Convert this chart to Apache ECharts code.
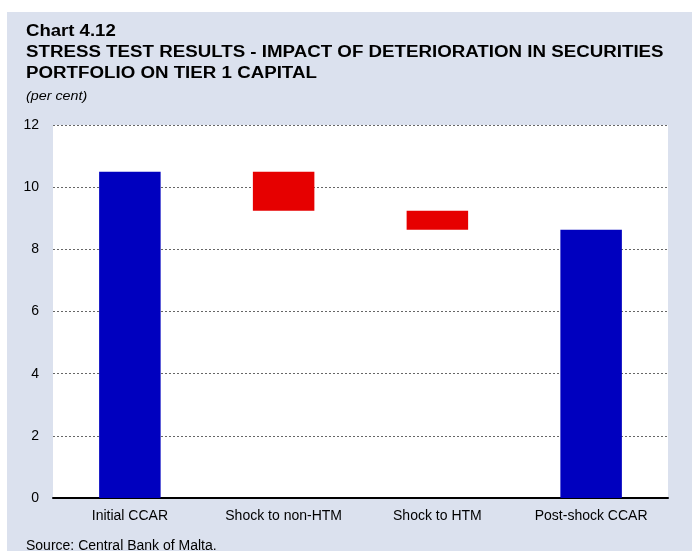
<!DOCTYPE html>
<html><head><meta charset="utf-8">
<script src="https://cdn.jsdelivr.net/npm/echarts@6/dist/echarts.min.js"></script>
<style>html,body{margin:0;padding:0;background:#fff}#c{width:692px;height:551px}</style>
</head><body><div id="c"></div>
<script>
const categories = ['Initial CCAR', 'Shock to non-HTM', 'Shock to HTM', 'Post-shock CCAR'];
const barBottom = [0, 9.24, 8.63, 0];
const barTop = [10.5, 10.5, 9.24, 8.63];
const barColors = ['#0000BF', '#E60000', '#E60000', '#0000BF'];
const yTicks = [0, 2, 4, 6, 8, 10, 12];

const font = '"Liberation Sans", Arial, sans-serif';
function txt(y, text, f, sx) {
  return { type: 'text', x: 26, y: y, scaleX: sx,
    style: { text: text, font: f, fill: '#000', verticalAlign: 'middle', align: 'left' } };
}
const chart = echarts.init(document.getElementById('c'));
chart.setOption({
  animation: false,
  backgroundColor: '#fff',
  graphic: [
    { type: 'rect', z: -10, shape: { x: 7, y: 12, width: 685, height: 539 }, style: { fill: '#DBE1EE' } },
    txt(32, 'Chart 4.12', 'bold 16px ' + font, 1.16),
    txt(52.5, 'STRESS TEST RESULTS - IMPACT OF DETERIORATION IN SECURITIES', 'bold 16px ' + font, 1.17),
    txt(74, 'PORTFOLIO ON TIER 1 CAPITAL', 'bold 16px ' + font, 1.17),
    txt(96, '(per cent)', 'italic 13px ' + font, 1.1),
    txt(546.5, 'Source: Central Bank of Malta.', '14px ' + font, 1)
  ],
  grid: { left: 53, right: 24, top: 125, bottom: 53, show: true, backgroundColor: '#fff', borderWidth: 0, containLabel: false },
  xAxis: {
    type: 'category', data: categories,
    axisLine: { lineStyle: { color: '#000', width: 2 } },
    axisTick: { show: false },
    axisLabel: { color: '#000', fontSize: 14, fontFamily: font, margin: 11 }
  },
  yAxis: {
    type: 'value', min: 0, max: 12, interval: 2,
    axisLine: { show: false }, axisTick: { show: false },
    axisLabel: { color: '#000', fontSize: 14, fontFamily: font, margin: 14,
      formatter: v => yTicks.includes(v) ? String(v) : '' },
    splitLine: { lineStyle: { color: '#666', type: [2, 2], width: 1 } }
  },
  series: [
    { type: 'bar', stack: 'w', silent: true, barWidth: '40%',
      itemStyle: { color: 'transparent' },
      data: barBottom },
    { type: 'bar', stack: 'w', barWidth: '40%',
      data: barTop.map((t, i) => ({ value: +(t - barBottom[i]).toFixed(2), itemStyle: { color: barColors[i] } })) }
  ]
});
</script></body></html>
